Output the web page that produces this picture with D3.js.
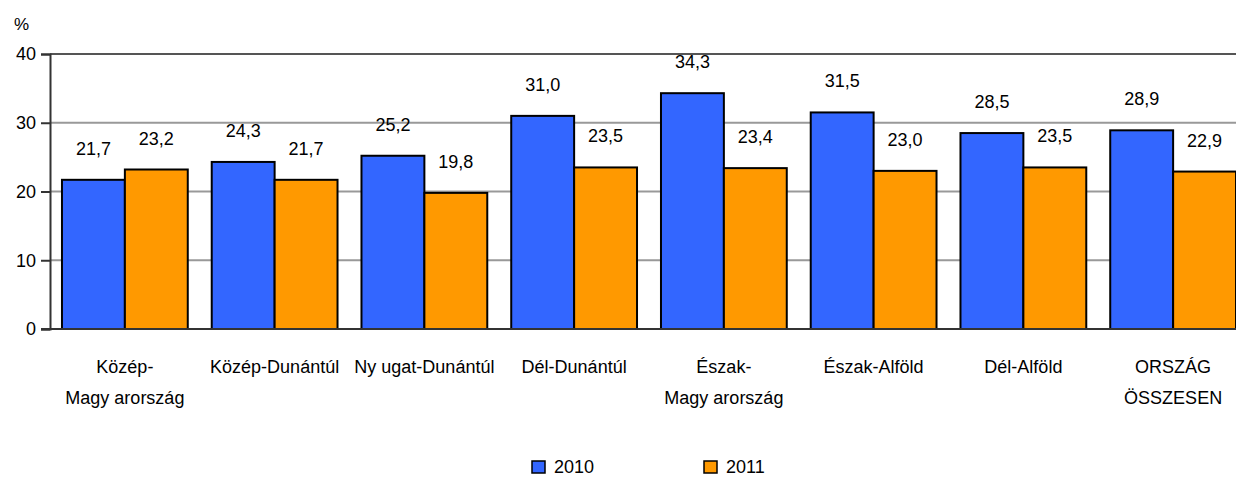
<!DOCTYPE html>
<html>
<head>
<meta charset="utf-8">
<script src="https://cdn.jsdelivr.net/npm/d3@7"></script>
<style>
  html, body { margin: 0; padding: 0; background: #fff; }
  svg { display: block; font-family: "Liberation Sans", Arial, sans-serif; }
</style>
</head>
<body>
<svg id="chart" width="1236" height="477"></svg>
<script>
// Régiók és értékek (%)
const regions = [
  ['Közép-', 'Magy arország'],
  ['Közép-Dunántúl'],
  ['Ny ugat-Dunántúl'],
  ['Dél-Dunántúl'],
  ['Észak-', 'Magy arország'],
  ['Észak-Alföld'],
  ['Dél-Alföld'],
  ['ORSZÁG', 'ÖSSZESEN']
];
const years = ['2010', '2011'];
const values2010 = [21.7, 24.3, 25.2, 31.0, 34.3, 31.5, 28.5, 28.9];
const values2011 = [23.2, 21.7, 19.8, 23.5, 23.4, 23.0, 23.5, 22.9];
const yTicks = [0, 10, 20, 30, 40];

const colors = { '2010': '#3366ff', '2011': '#ff9900' };

const svg = d3.select('#chart');
const plotLeft = 50, plotTop = 54, plotBottom = 329;

const keys = regions.map(r => r.join(' '));
const x0 = d3.scaleBand().domain(keys).range([plotLeft, 1248])
  .paddingInner(0.16).paddingOuter(0.08);
const x1 = d3.scaleBand().domain(years).range([0, x0.bandwidth()]);
const y = d3.scaleLinear().domain([0, 40]).range([plotBottom, plotTop]);

// rácsvonalak
svg.append('g').selectAll('line')
  .data(yTicks.filter(t => t > 0))
  .join('line')
  .attr('x1', plotLeft).attr('x2', 1236)
  .attr('y1', d => y(d)).attr('y2', d => y(d))
  .attr('stroke', d => d === 40 ? '#555' : '#999')
  .attr('stroke-width', 2);

// oszlopok
const rows = keys.map((k, i) => ({ k, vals: [values2010[i], values2011[i]] }));
const groups = svg.append('g').selectAll('g')
  .data(rows).join('g')
  .attr('transform', d => `translate(${x0(d.k)},0)`);

groups.selectAll('rect')
  .data(d => d.vals.map((v, j) => ({ year: years[j], v })))
  .join('rect')
  .attr('x', d => x1(d.year))
  .attr('y', d => y(d.v))
  .attr('width', x1.bandwidth())
  .attr('height', d => y(0) - y(d.v))
  .attr('fill', d => colors[d.year])
  .attr('stroke', '#000')
  .attr('stroke-width', 2);

groups.selectAll('text.val')
  .data(d => d.vals.map((v, j) => ({ year: years[j], v })))
  .join('text').attr('class', 'val')
  .attr('x', d => x1(d.year) + x1.bandwidth() / 2)
  .attr('y', d => y(d.v) - 25)
  .attr('text-anchor', 'middle')
  .attr('font-size', 18)
  .attr('fill', '#000')
  .text(d => d.v.toFixed(1).replace('.', ','));

// y tengely
const yAxis = svg.append('g')
  .attr('transform', `translate(${plotLeft},0)`)
  .call(d3.axisLeft(y).tickValues(yTicks).tickSize(9).tickPadding(5));
yAxis.select('.domain').attr('stroke', '#333').attr('stroke-width', 2);
yAxis.selectAll('.tick line').attr('stroke', '#333').attr('stroke-width', 2);
yAxis.selectAll('.tick text')
  .attr('font-size', 18).attr('fill', '#000')
  .attr('font-family', '"Liberation Sans", Arial, sans-serif');

// x tengely alapvonal
svg.append('line')
  .attr('x1', plotLeft - 9).attr('x2', 1236)
  .attr('y1', y(0)).attr('y2', y(0))
  .attr('stroke', '#333').attr('stroke-width', 2);

// kategória feliratok
const catLabels = svg.append('g').selectAll('text')
  .data(regions).join('text')
  .attr('text-anchor', 'middle')
  .attr('font-size', 18)
  .attr('fill', '#000')
  .attr('x', (d, i) => x0(keys[i]) + x0.bandwidth() / 2)
  .attr('y', 373);
catLabels.selectAll('tspan')
  .data(d => d).join('tspan')
  .attr('x', function () { return d3.select(this.parentNode).attr('x'); })
  .attr('dy', (d, i) => i === 0 ? 0 : 31)
  .text(d => d);

// mértékegység
svg.append('text')
  .attr('x', 14).attr('y', 30)
  .attr('font-size', 17)
  .text('%');

// jelmagyarázat
const legendX = [532, 704];
const legend = svg.append('g').selectAll('g')
  .data(years).join('g')
  .attr('transform', (d, i) => `translate(${legendX[i]},461)`);
legend.append('rect')
  .attr('width', 13).attr('height', 12)
  .attr('fill', d => colors[d])
  .attr('stroke', '#000').attr('stroke-width', 1.5);
legend.append('text')
  .attr('x', 22).attr('y', 12)
  .attr('font-size', 18)
  .text(d => d);
</script>
</body>
</html>
